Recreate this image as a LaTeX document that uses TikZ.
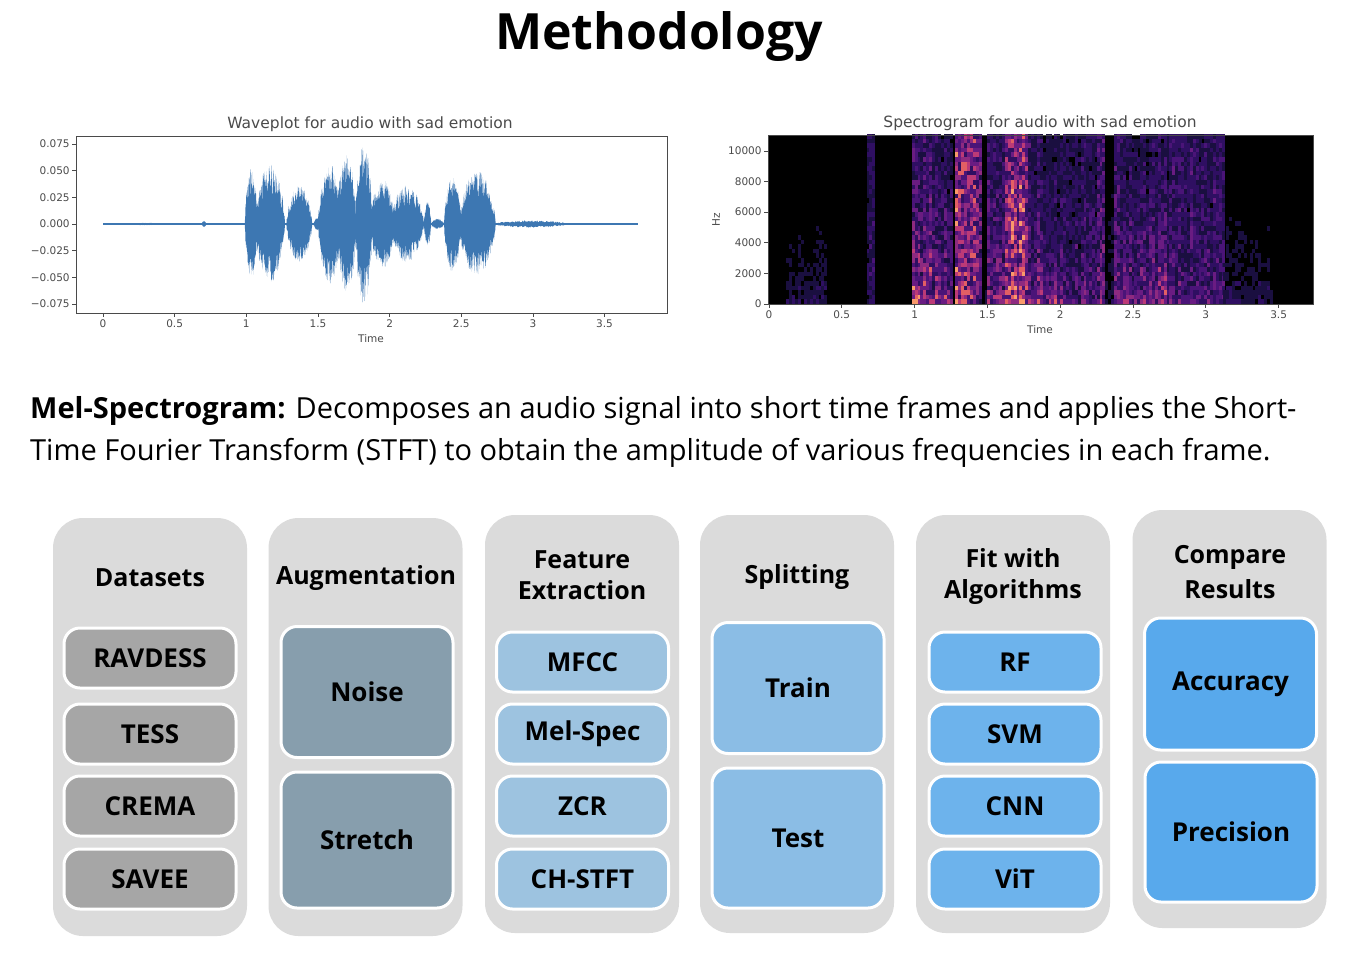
\documentclass[tikz,border=0pt]{standalone}
\usepackage{fontspec}
\setmainfont{Open Sans}
\newfontfamily\plotfont{DejaVu Sans}
\usepackage{tikz}
\usetikzlibrary{positioning}
\definecolor{panelgray}{HTML}{DBDBDB}
\definecolor{setgray}{HTML}{A6A6A6}
\definecolor{augslate}{HTML}{879EAD}
\definecolor{featblue}{HTML}{9DC3E0}
\definecolor{splitblue}{HTML}{8BBDE5}
\definecolor{algblue}{HTML}{6DB3EC}
\definecolor{resblue}{HTML}{58A9EC}
\definecolor{wavecol}{HTML}{3D77B2}
\definecolor{axcol}{HTML}{4A4A4A}
\definecolor{mag1}{HTML}{1A0F40}
\definecolor{mag2}{HTML}{2F0F62}
\definecolor{mag3}{HTML}{4A1478}
\definecolor{mag4}{HTML}{6A1C82}
\definecolor{mag5}{HTML}{8E2A80}
\definecolor{mag6}{HTML}{BC3A77}
\definecolor{mag7}{HTML}{E35F64}
\definecolor{mag8}{HTML}{F99A6B}
\tikzset{
  panel/.style={fill=panelgray, rounded corners=30pt, minimum width=194pt,
                minimum height=418pt, inner sep=0pt},
  ptitle/.style={font=\fontsize{25}{31}\selectfont\bfseries, align=center, inner sep=0pt},
  item/.style={draw=white, line width=3pt, rounded corners=16pt, minimum width=172pt,
               minimum height=60pt, inner sep=0pt, font=\fontsize{26}{30}\selectfont\bfseries},
  axline/.style={axcol, line width=0.8pt},
  ticklab/.style={font=\plotfont\fontsize{10.5}{12}\selectfont, text=axcol, inner sep=2pt},
  plottitle/.style={font=\plotfont\fontsize{15.5}{18}\selectfont, text=axcol, inner sep=0pt},
  paratext/.style={font=\fontsize{29}{34}\selectfont, anchor=base west, inner sep=0pt},
}

\begin{document}
\begin{tikzpicture}[x=1pt,y={(0,-1pt)}]
  \useasboundingbox (0,0) rectangle (1356,958);
  \node[font=\fontsize{50}{56}\selectfont\bfseries, inner sep=0pt] (title) at (659,37) {Methodology};

  % waveplot
  \node[plottitle] (wtitle) at (370,124) {Waveplot for audio with sad emotion};
  \draw[axline] (76,136) rectangle (667,313);
  \begin{scope}[shift={(103,224)}, x=143.3pt, y=1068pt]
    \pgfmathsetseed{11}
    \draw[wavecol, line width=1.2pt] (0,0) -- (3.73,0);
    \foreach \a/\b/\A in {0.18/0.40/0.0012, 0.69/0.72/0.003, 0.99/1.08/0.052, 1.06/1.27/0.056,
        1.28/1.46/0.036, 1.47/1.52/0.006, 1.50/1.67/0.056, 1.63/1.77/0.066, 1.76/1.88/0.076,
        1.86/2.04/0.042, 2.00/2.24/0.036, 2.24/2.29/0.021, 2.29/2.38/0.005, 2.38/2.50/0.046,
        2.48/2.74/0.050, 2.72/3.25/0.0035}
      \fill[wavecol] plot[domain=\a:\b, samples=90] (\x,{\A*pow(abs(sin(180*(\x-\a)/(\b-\a))),0.6)*(0.45+0.55*rnd)})
        -- plot[domain=\b:\a, samples=90] (\x,{-\A*pow(abs(sin(180*(\x-\a)/(\b-\a))),0.6)*(0.45+0.55*rnd)}) -- cycle;
    \foreach \v/\lab [count=\i] in {0.075/0.075, 0.05/0.050, 0.025/0.025, 0/0.000,
        -0.025/−0.025, -0.05/−0.050, -0.075/−0.075}
      \draw[axline] (-0.188,\v) -- ++(-4pt,0) node[ticklab, left] (wy\i) {\lab};
    \foreach \v/\lab [count=\i] in {0/0, 0.5/0.5, 1/1, 1.5/1.5, 2/2, 2.5/2.5, 3/3, 3.5/3.5}
      \draw[axline] (\v,-0.0833) -- ++(0,-4pt) node[ticklab, below] (wx\i) {\lab};
  \end{scope}
  \node[ticklab] (wtime) at (371,339) {Time};

  % spectrogram
  \node[plottitle] (stitle) at (1040,123) {Spectrogram for audio with sad emotion};
  \fill[black] (768,135) rectangle (1313,304);
  \begin{scope}[shift={(769,304)}, x=145.6pt, y=0.0153pt]
    \clip (-0.01,0) rectangle (3.736,11046);
    \pgfmathsetseed{5}
    \foreach \ta/\tb/\lo/\hi in {0.12/0.40/0.4/0.0, 0.67/0.73/0.4/0.35, 0.98/1.26/1.15/0.45,
        1.28/1.44/1.1/0.95, 1.44/1.50/0.2/0.05, 1.50/1.62/1.0/0.4, 1.62/1.78/1.15/0.9,
        1.78/2.02/1.0/0.35, 2.02/2.24/0.8/0.35, 2.25/2.31/0.9/0.6, 2.31/2.37/0.3/0.1,
        2.37/2.43/0.95/0.55, 2.43/2.75/1.05/0.35, 2.75/3.12/0.7/0.45, 3.12/3.45/0.4/0.05}{
      \pgfmathtruncatemacro{\nc}{(\tb-\ta)/0.02}
      \foreach \c in {0,...,\nc}{
        \pgfmathsetmacro{\cf}{0.6+0.4*rnd}
        \foreach \r in {0,...,36}{
          \pgfmathtruncatemacro{\lev}{min(8,(\lo+(\hi-\lo)*pow(\r/36,0.4))*\cf*(0.3+0.7*rnd)*9.5)}
          \ifnum\lev>0 \fill[mag\lev] (\ta+\c*0.02,\r*300) rectangle ++(0.021,300); \fi
        }
      }
    }
  \end{scope}
  \draw[axline] (768,135) rectangle (1313,304);
  \begin{scope}[shift={(769,304)}, x=145.6pt, y=0.0153pt]
    \foreach \v [count=\i] in {0,2000,4000,6000,8000,10000}
      \draw[axline] (-0.007,\v) -- ++(-4pt,0) node[ticklab, left] (sy\i) {\v};
    \foreach \v/\lab [count=\i] in {0/0, 0.5/0.5, 1/1, 1.5/1.5, 2/2, 2.5/2.5, 3/3, 3.5/3.5}
      \draw[axline] (\v,0) -- ++(0,-4pt) node[ticklab, below] (sx\i) {\lab};
  \end{scope}
  \node[ticklab, rotate=90] (shz) at (716,220) {Hz};
  \node[ticklab] (stime) at (1040,330) {Time};

  % description
  \node[paratext] (mel1) at (30,418) {\textbf{Mel-Spectrogram:} Decomposes an audio signal into short time frames and applies the Short-};
  \node[paratext] (mel2) at (30,460) {Time Fourier Transform (STFT) to obtain the amplitude of various frequencies in each frame.};

  % pipeline panels
  \node[panel] (pdata) at (150,727) {};
  \node[panel] (paug) at (365.5,727) {};
  \node[panel] (pfeat) at (582,724) {};
  \node[panel] (psplit) at (797,724) {};
  \node[panel] (palg) at (1013,724) {};
  \node[panel] (pres) at (1229.5,719) {};

  \node[ptitle] (tdata) at (150,578) {Datasets};
  \node[ptitle] (taug) at (366,578) {Augmentation};
  \node[ptitle] (tfeat) at (582,575) {Feature\\Extraction};
  \node[ptitle] (tsplit) at (797,577) {Splitting};
  \node[ptitle] (talg) at (1013,576) {Fit with\\Algorithms};
  \node[ptitle, font=\fontsize{25}{35}\selectfont\bfseries] (tres) at (1230,572) {Compare\\Results};

  \foreach \lab/\yy/\nm in {RAVDESS/658/rav, TESS/734/tess, CREMA/806/crema, SAVEE/879/savee}
    \node[item, fill=setgray] (\nm) at (150,\yy) {\lab};
  \foreach \lab/\yy/\nm in {MFCC/662/mfcc, Mel-Spec/734/melspec, ZCR/806/zcr, CH-STFT/879/chstft}
    \node[item, fill=featblue] (\nm) at (582.5,\yy) {\lab};
  \foreach \lab/\yy/\nm in {RF/662/rf, SVM/734/svm, CNN/806/cnn, ViT/879/vit}
    \node[item, fill=algblue] (\nm) at (1015,\yy) {\lab};

  \node[item, fill=augslate, minimum height=131pt] (noise) at (367,692) {Noise};
  \node[item, fill=augslate, minimum height=136pt] (stretch) at (367,840) {Stretch};
  \node[item, fill=splitblue, minimum height=131pt] (train) at (798,688) {Train};
  \node[item, fill=splitblue, minimum height=140pt] (test) at (798,838) {Test};
  \node[item, fill=resblue, minimum height=132pt] (acc) at (1230.5,684) {Accuracy};
  \node[item, fill=resblue, minimum height=140pt] (prec) at (1231,832) {Precision};
\end{tikzpicture}
\end{document}
